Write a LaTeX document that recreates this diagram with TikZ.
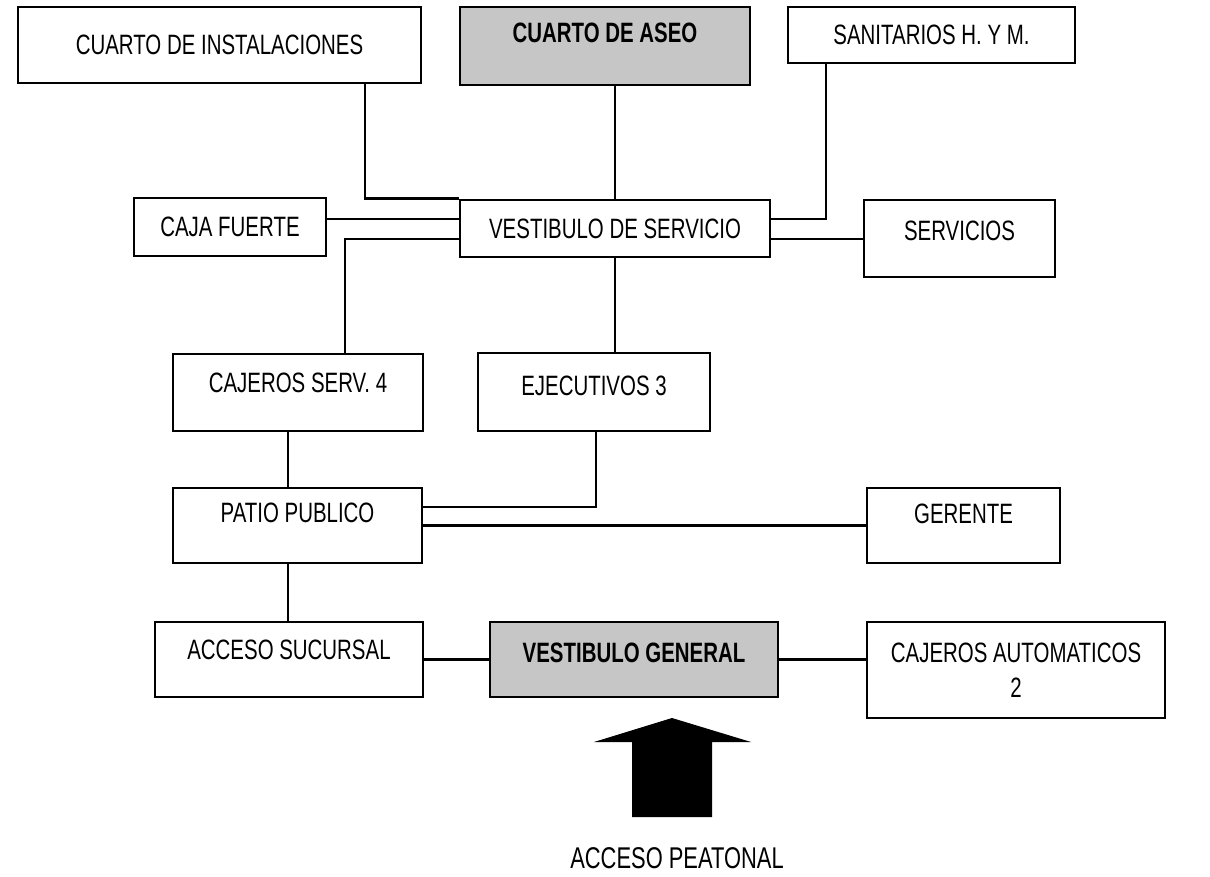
\documentclass[tikz,border=0pt]{standalone}
\usepackage{fontspec}
\setmainfont{Liberation Sans}[FakeStretch=0.73]
\begin{document}
\begin{tikzpicture}[x=0.5pt, y=-0.5pt,
  room/.style={draw, line width=1.4pt, inner sep=0pt, font=\fontsize{14}{17.5}\selectfont},
  cap/.style={text height=10pt, text depth=#1},
  cap/.default=0pt,
  grey/.style={room, fill=gray!45, font=\fontsize{14}{17.5}\selectfont\bfseries},
  link/.style={line width=1.4pt}]
  \useasboundingbox (0,0) rectangle (1210,877);
  % fila superior
  \node[room, cap, minimum width=201.5pt, minimum height=38pt] (inst) at (219.5,45) {CUARTO DE INSTALACIONES};
  \node[grey, cap=13pt, minimum width=145pt, minimum height=39pt] (aseo) at (605,46) {CUARTO DE ASEO};
  \node[room, cap, minimum width=143.5pt, minimum height=28pt] (sanit) at (931.5,35) {SANITARIOS H. Y M.};
  % vestibulo de servicio
  \node[room, cap, minimum width=96pt, minimum height=29pt] (caja) at (230,227) {CAJA FUERTE};
  \node[room, cap, minimum width=155pt, minimum height=28.5pt] (vserv) at (615,228.5) {VESTIBULO DE SERVICIO};
  \node[room, cap=8pt, minimum width=95.5pt, minimum height=38.5pt] (serv) at (959.5,238.5) {SERVICIOS};
  \node[room, cap=10pt, minimum width=125pt, minimum height=38.5pt] (cajs) at (298,392.5) {CAJEROS SERV. 4};
  \node[room, cap=7pt, minimum width=116pt, minimum height=39pt] (ejec) at (594,392) {EJECUTIVOS 3};
  % patio y accesos
  \node[room, cap=13pt, minimum width=124.5pt, minimum height=37.5pt] (patio) at (297.5,525.5) {PATIO PUBLICO};
  \node[room, cap=12pt, minimum width=96.5pt, minimum height=37.5pt] (ger) at (963.5,525.5) {GERENTE};
  \node[room, cap=10pt, minimum width=134pt, minimum height=37.5pt] (acc) at (289,659.5) {ACCESO SUCURSAL};
  \node[grey, cap=7pt, minimum width=144pt, minimum height=37.5pt] (vgen) at (634,659.5) {VESTIBULO GENERAL};
  \node[room, align=center, minimum width=149pt, minimum height=48pt] (caut) at (1016,670) {CAJEROS AUTOMATICOS\\2};
  \coordinate (k1) at (365,200);
  \coordinate (k2) at (826,219);
  \coordinate (k3) at (345,239);
  \coordinate (k4) at (288,0);
  \coordinate (k5) at (596,507);
  % conexiones
  \draw[link] (inst.south -| k1) |- (vserv.north west);
  \draw[link] (aseo.south -| vserv.north) -- (vserv.north);
  \draw[link] (sanit.south -| k2) |- (vserv.east |- k2);
  \draw[link] (caja.east |- k2) -- (vserv.west |- k2);
  \draw[link] (cajs.north -| k3) |- (vserv.west |- k3);
  \draw[link] (vserv.east |- k3) -- (serv.west |- k3);
  \draw[link] (vserv.south) -- (vserv.south |- ejec.north);
  \draw[link] (cajs.south -| k4) -- (patio.north -| k4);
  \draw[link] (ejec.south -| k5) |- (patio.east |- k5);
  \draw[link] (patio.east) -- (ger.west);
  \draw[link] (patio.south -| k4) -- (acc.north -| k4);
  \draw[link] (acc.east) -- (vgen.west);
  \draw[link] (vgen.east) -- (caut.west |- vgen.east);
  % flecha de entrada
  \fill (632,817) -- (632,742) -- (594,742) -- (672,718) -- (751,742) -- (712,742) -- (712,817) -- cycle;
  \node[font=\fontsize{15}{18}\selectfont] (peat) at (677,858) {ACCESO PEATONAL};
\end{tikzpicture}
\end{document}
